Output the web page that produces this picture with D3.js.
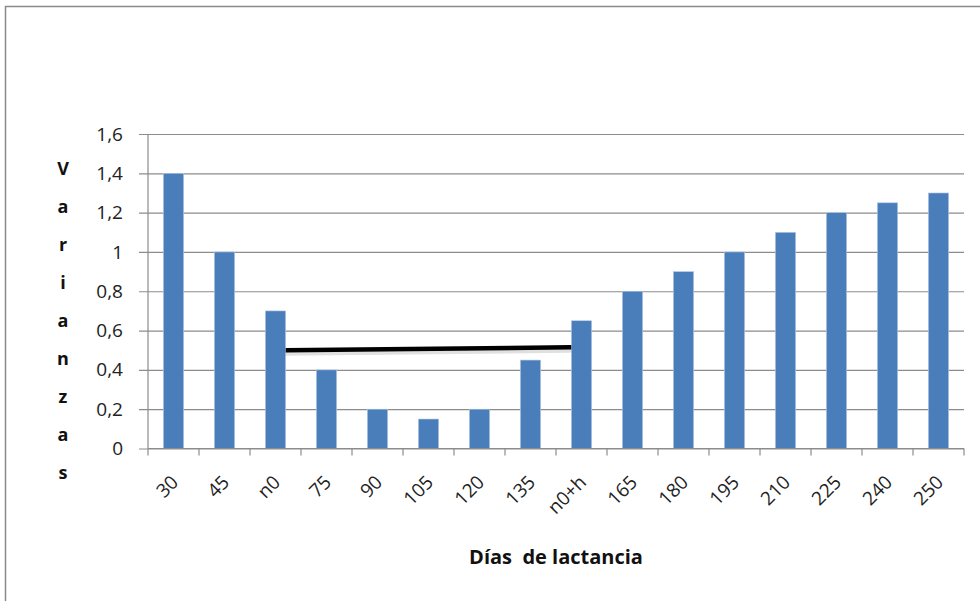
<!DOCTYPE html>
<html lang="es">
<head>
<meta charset="UTF-8" />
<script src="https://d3js.org/d3.v7.min.js"></script>
<style>
  body { margin: 0; background: #fff; }
  .grid line { stroke: #8c8c8c; stroke-width: 1.2px; }
  .grid .domain { stroke: none; }
  .axis text { font-family: "Open Sans", "Noto Sans", sans-serif; fill: #222; }
  .axis line, .axis path { stroke: #8c8c8c; stroke-width: 1.2px; }
</style>
</head>
<body>
<svg id="chart" width="980" height="601"></svg>
<script>
  const categories = ["30", "45", "n0", "75", "90", "105", "120", "135", "n0+h", "165", "180", "195", "210", "225", "240", "250"];
  const varianzas = [1.4, 1.0, 0.7, 0.4, 0.2, 0.15, 0.2, 0.45, 0.65, 0.8, 0.9, 1.0, 1.1, 1.2, 1.25, 1.3];
  const yTicks = [0, 0.2, 0.4, 0.6, 0.8, 1, 1.2, 1.4, 1.6];
  // horizontal reference line drawn between n0 and n0+h
  const refFrom = "n0", refTo = "n0+h";
  const refValues = [0.5, 0.515];
  const yTitle = "Varianzas";
  const xTitle = "Días  de lactancia";

  const svg = d3.select("#chart");
  const margin = { top: 134, right: 16, bottom: 152, left: 148 };
  const width = +svg.attr("width"), height = +svg.attr("height");
  const chartWidth = width - margin.left - margin.right;
  const chartHeight = height - margin.top - margin.bottom - 0.5;

  // outer frame
  svg.append("path")
    .attr("d", "M5.5,601 V6.5 H980")
    .attr("fill", "none")
    .attr("stroke", "#8a8a8a")
    .attr("stroke-width", 1.5);

  const chartArea = svg.append("g")
    .attr("transform", `translate(${margin.left},${margin.top})`);

  const x = d3.scaleBand().domain(categories).range([0, chartWidth]).paddingInner(0.6).paddingOuter(0.3);
  const xTick = d3.scaleBand().domain(categories).range([0, chartWidth]);
  const y = d3.scaleLinear().domain([0, 1.6]).range([chartHeight, 0]);

  // gridlines with outside tick
  chartArea.append("g")
    .attr("class", "grid")
    .attr("transform", `translate(-9,0)`)
    .call(d3.axisLeft(y).tickValues(yTicks).tickSize(-chartWidth - 9).tickFormat(""));

  // y axis labels
  chartArea.append("g")
    .attr("class", "axis")
    .call(d3.axisLeft(y).tickValues(yTicks).tickSize(0).tickPadding(25)
      .tickFormat(d => String(d).replace(".", ",")))
    .call(g => g.select(".domain").remove())
    .selectAll("text").attr("font-size", "19px");

  chartArea.append("line")
    .attr("x1", 0).attr("x2", 0).attr("y1", 0).attr("y2", chartHeight)
    .attr("stroke", "#8c8c8c").attr("stroke-width", 1.2);

  // bars
  chartArea.selectAll("rect.bar")
    .data(categories.map((c, i) => ({ c: c, v: varianzas[i] })))
    .join("rect")
    .attr("class", "bar")
    .attr("x", d => x(d.c))
    .attr("y", d => y(d.v))
    .attr("width", x.bandwidth())
    .attr("height", d => chartHeight - y(d.v))
    .attr("fill", "#4a7ebb")
    .attr("stroke", "#b9cde6")
    .attr("stroke-width", 0.6);

  // x axis with ticks at band boundaries
  const boundaries = categories.map(c => xTick(c)).concat([chartWidth]);
  const xAxis = chartArea.append("g")
    .attr("class", "axis")
    .attr("transform", `translate(0,${chartHeight})`);
  xAxis.append("line")
    .attr("x1", 0).attr("x2", chartWidth)
    .attr("stroke", "#8c8c8c").attr("stroke-width", 1.2);
  xAxis.selectAll("line.tk")
    .data(boundaries)
    .join("line")
    .attr("class", "tk")
    .attr("x1", d => d).attr("x2", d => d)
    .attr("y1", 0).attr("y2", 7);
  xAxis.selectAll("text")
    .data(categories)
    .join("text")
    .attr("text-anchor", "end")
    .attr("font-size", "19px")
    .attr("transform", d => `translate(${x(d) + x.bandwidth() / 2 + 6},${35}) rotate(-45)`)
    .text(d => d);

  // black reference line
  const line = d3.line().x(d => d[0]).y(d => d[1]);
  const pts = [[x(refFrom) + x.bandwidth(), y(refValues[0])], [x(refTo), y(refValues[1])]];
  chartArea.append("path")
    .attr("d", line(pts.map(p => [p[0], p[1] + 2.5])))
    .attr("stroke", "#000").attr("stroke-opacity", 0.12)
    .attr("stroke-width", 6).attr("fill", "none");
  chartArea.append("path")
    .attr("d", line(pts))
    .attr("stroke", "#000").attr("stroke-width", 4.5).attr("fill", "none");

  // y title: stacked letters
  svg.append("g").selectAll("text")
    .data(yTitle.split(""))
    .join("text")
    .attr("x", 63)
    .attr("y", (d, i) => 175 + i * 38)
    .attr("text-anchor", "middle")
    .attr("font-family", "\"Open Sans\", sans-serif")
    .attr("font-weight", "bold")
    .attr("font-size", "18px")
    .attr("fill", "#111")
    .text(d => d);

  // x title
  svg.append("text")
    .attr("x", margin.left + chartWidth / 2)
    .attr("y", 564)
    .attr("text-anchor", "middle")
    .attr("font-family", "\"Open Sans\", sans-serif")
    .attr("font-weight", "bold")
    .attr("font-size", "20px")
    .attr("fill", "#111")
    .attr("xml:space", "preserve")
    .style("white-space", "pre")
    .text(xTitle);
</script>
</body>
</html>
